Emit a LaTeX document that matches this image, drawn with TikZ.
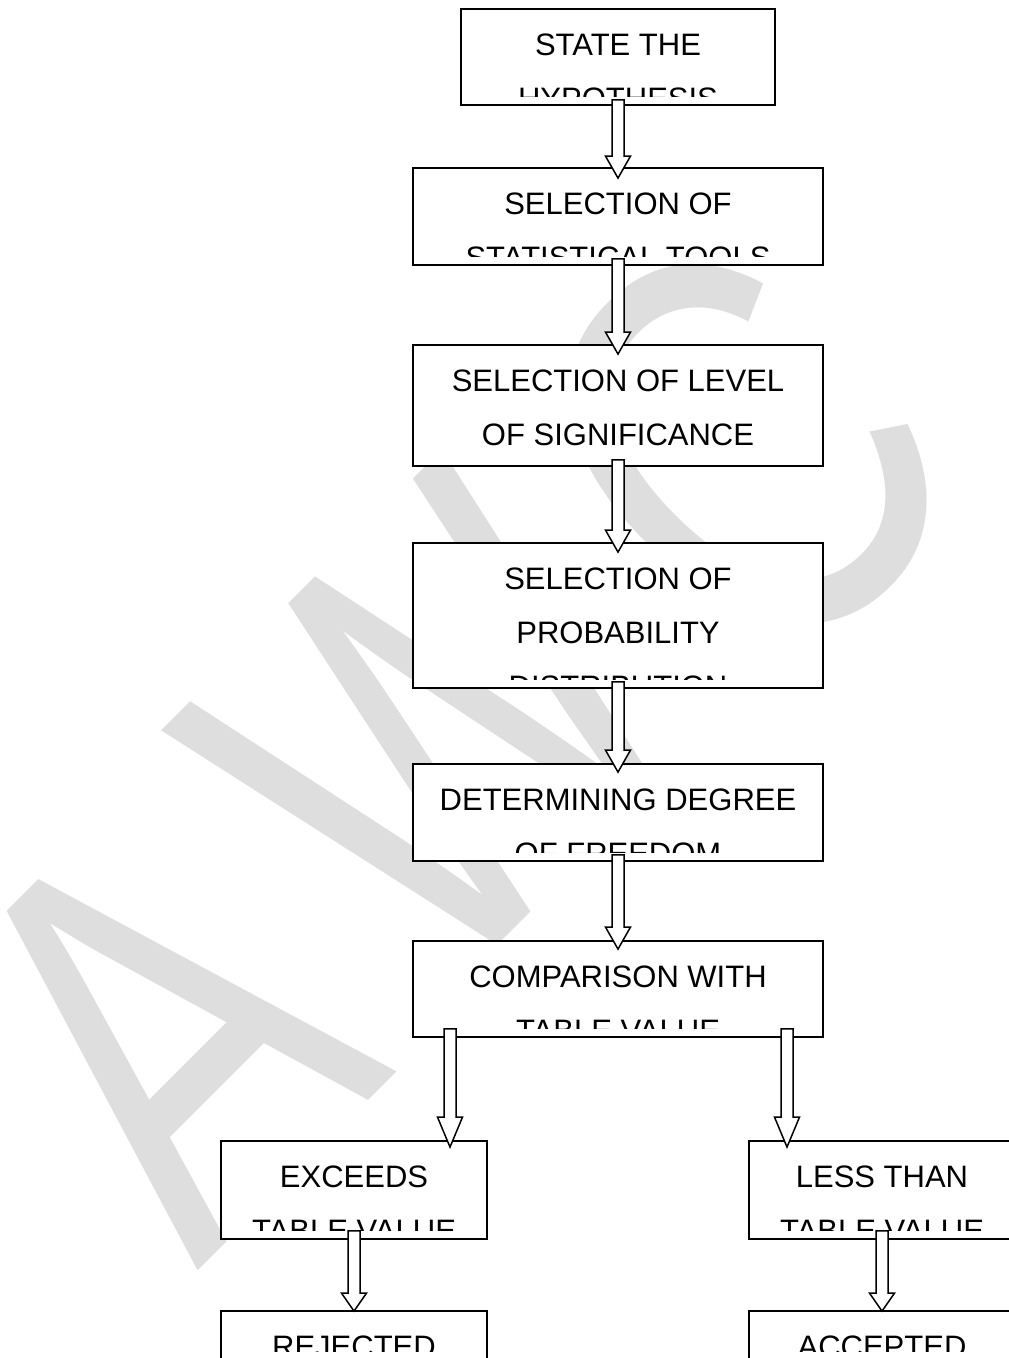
\documentclass[tikz,border=0pt]{standalone}
\usepackage{fontspec}
\setmainfont{Liberation Sans}
\usetikzlibrary{calc}
\definecolor{wmgray}{RGB}{222,222,222}
\tikzset{
  flowbox/.style={draw, line width=1.8pt, fill=white, rectangle, inner sep=0pt},
  boxtext/.style={font=\fontsize{31}{31}\selectfont, inner sep=0pt},
  boxlines/.style={path picture={
      \clip ([yshift=9pt]path picture bounding box.south west) rectangle (path picture bounding box.north east);
      \foreach \ln [count=\i] in {#1}
        \node[boxtext, anchor=base] (txt\i) at ([yshift=-46pt-(\i-1)*54pt]path picture bounding box.north) {\ln};}},
  hollow/.style={draw, line width=1.5pt, fill=white},
  watermark/.style={text=wmgray, font=\fontsize{566}{566}\selectfont, inner sep=0pt,
    anchor=base, rotate=45, xscale=0.75}
}
% Flèche creuse : départ (x,y) et pointe (y)
\newcommand{\blockarrow}[3][22]{%
  \draw[hollow] let \p1=#2, \p2=#3 in
    (\x1-6pt,\y1) -- (\x1-6pt,\y2+#1pt) -- (\x1-12.5pt,\y2+#1pt) -- (\x1,\y2)
    -- (\x1+12.5pt,\y2+#1pt) -- (\x1+6pt,\y2+#1pt) -- (\x1+6pt,\y1) -- cycle;}
\begin{document}
\begin{tikzpicture}[x=1pt,y=-1pt]
   \useasboundingbox (0,0) rectangle (1009,1358);
   \clip (0,0) rectangle (1009,1358);

   % Filigrane
   \node[watermark] (wmA) at (298,1171) {A};
   \node[watermark] (wmW) at (577,866) {W};
   \node[watermark] (wmC) at (880,590) {C};

   % Boîtes
   \node[flowbox, minimum width=314pt, minimum height=96pt, boxlines={STATE THE, HYPOTHESIS}] (hyp) at (618,57) {};
   \node[flowbox, minimum width=410pt, minimum height=97pt, boxlines={SELECTION OF, STATISTICAL TOOLS}] (tools) at (618,216.5) {};
   \node[flowbox, minimum width=410pt, minimum height=121pt, boxlines={SELECTION OF LEVEL, OF SIGNIFICANCE}] (level) at (618,405.5) {};
   \node[flowbox, minimum width=410pt, minimum height=145pt, boxlines={SELECTION OF, PROBABILITY, DISTRIBUTION}] (distr) at (618,615.5) {};
   \node[flowbox, minimum width=410pt, minimum height=97pt, boxlines={DETERMINING DEGREE, OF FREEDOM}] (freedom) at (618,812.5) {};
   \node[flowbox, minimum width=410pt, minimum height=96pt, boxlines={COMPARISON WITH, TABLE VALUE}] (compare) at (618,989) {};
   \node[flowbox, minimum width=266pt, minimum height=98pt, boxlines={EXCEEDS, TABLE VALUE}] (exceeds) at (354,1190) {};
   \node[flowbox, minimum width=266pt, minimum height=98pt, boxlines={LESS THAN, TABLE VALUE}] (less) at (882,1190) {};
   \node[flowbox, minimum width=266pt, minimum height=49pt, boxlines={REJECTED}] (rejected) at (354,1335.5) {};
   \node[flowbox, minimum width=266pt, minimum height=49pt, boxlines={ACCEPTED}] (accepted) at (882,1335.5) {};

   % Flèches
   \blockarrow{([yshift=6pt]hyp.south)}{([yshift=-11pt]tools.north)}
   \blockarrow{([yshift=7pt]tools.south)}{([yshift=-10pt]level.north)}
   \blockarrow{([yshift=7pt]level.south)}{([yshift=-10pt]distr.north)}
   \blockarrow{([yshift=7pt]distr.south)}{([yshift=-9pt]freedom.north)}
   \blockarrow{([yshift=7pt]freedom.south)}{([yshift=-9pt]compare.north)}
   \blockarrow[30]{([xshift=-168pt,yshift=9pt]compare.south)}{([yshift=-7pt]exceeds.north)}
   \blockarrow[30]{([xshift=169pt,yshift=9pt]compare.south)}{([yshift=-7pt]less.north)}
   \blockarrow[18]{([yshift=9pt]exceeds.south)}{([yshift=-1pt]rejected.north)}
   \blockarrow[18]{([yshift=9pt]less.south)}{([yshift=-1pt]accepted.north)}
\end{tikzpicture}
\end{document}
